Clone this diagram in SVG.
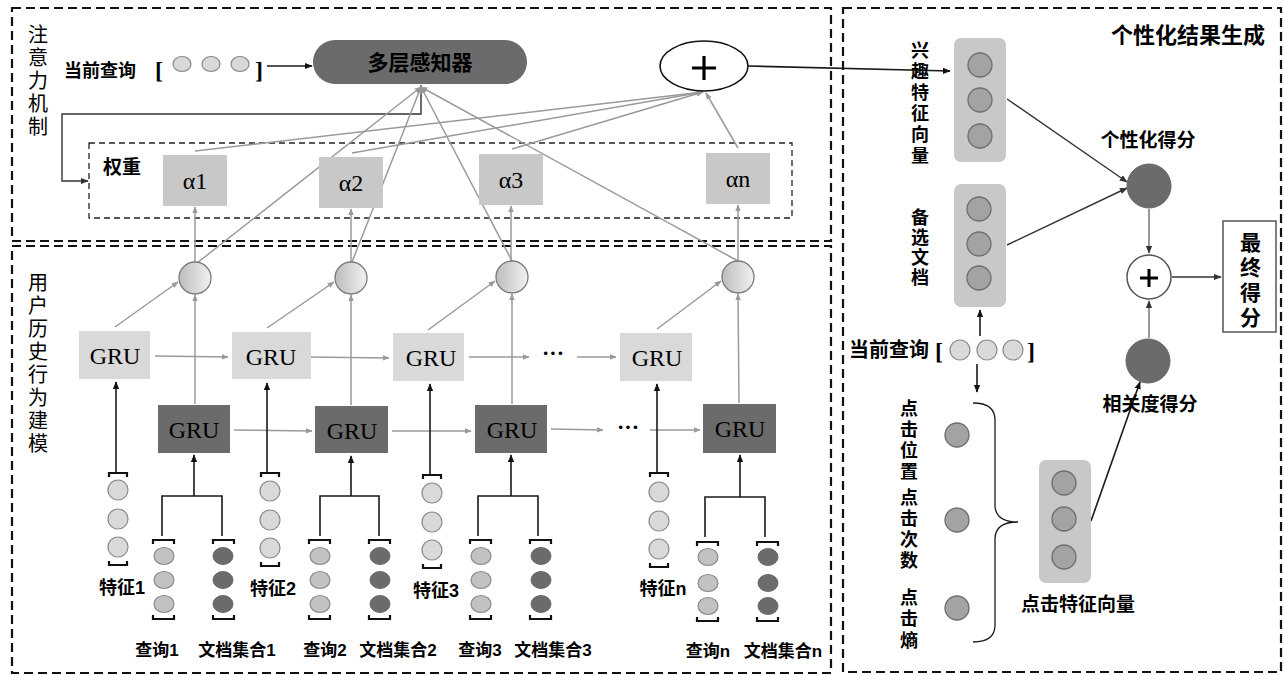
<svg xmlns="http://www.w3.org/2000/svg" width="1284" height="675" viewBox="0 0 1284 675">
<defs>
<style>
.panel{fill:none;stroke:#111;stroke-width:2.2;stroke-dasharray:9 5}
.wbox{fill:none;stroke:#222;stroke-width:1.3;stroke-dasharray:6 4}
.cjkb{font-family:"Liberation Sans","Noto Sans CJK SC",sans-serif;font-weight:bold;fill:#000}
.cjk{font-family:"Noto Sans CJK SC",sans-serif;font-weight:normal;fill:#000}
.vt{writing-mode:vertical-rl;text-anchor:start}
.ser{font-family:"Liberation Serif",serif;fill:#000}
.gl{stroke:#9a9a9a;stroke-width:1.5;fill:none}
.bl{stroke:#1a1a1a;stroke-width:1.6;fill:none}
.dl{stroke:#333;stroke-width:1.4;fill:none}
.alpha{fill:#c8c8c8}
.gru1{fill:#d9d9d9}
.gru2{fill:#6b6b6b}
.sum{fill:url(#sg);stroke:#7a7a7a;stroke-width:1.3}
.fc{fill:#d9d9d9;stroke:#8a8a8a;stroke-width:1.2}
.qc{fill:#c2c2c2;stroke:#8a8a8a;stroke-width:1.2}
.dc{fill:#6b6b6b;stroke:#6b6b6b;stroke-width:1}
.vc{fill:#a3a3a3;stroke:#6e6e6e;stroke-width:1.3}
.vbox{fill:#c8c8c8}
.brk{fill:none;stroke:#111;stroke-width:2.2}
</style>
<linearGradient id="sg" x1="0" y1="0" x2="1" y2="0">
<stop offset="0" stop-color="#bcbcbc"/>
<stop offset="1" stop-color="#f2f2f2"/>
</linearGradient>
<marker id="ag" viewBox="0 0 10 10" refX="9" refY="5" markerWidth="7" markerHeight="7" orient="auto" markerUnits="userSpaceOnUse">
<path d="M0,1 L10,5 L0,9 z" fill="#9a9a9a"/>
</marker>
<marker id="ab" viewBox="0 0 10 10" refX="9" refY="5" markerWidth="8" markerHeight="8" orient="auto" markerUnits="userSpaceOnUse">
<path d="M0,1 L10,5 L0,9 z" fill="#111"/>
</marker>
<marker id="ad" viewBox="0 0 10 10" refX="9" refY="5" markerWidth="8" markerHeight="8" orient="auto" markerUnits="userSpaceOnUse">
<path d="M0,1 L10,5 L0,9 z" fill="#333"/>
</marker>
</defs>
<rect width="1284" height="675" fill="#fff"/>

<g id="panels">
<rect class="panel" x="12" y="8" width="819" height="233"/>
<rect class="panel" x="12" y="246" width="819" height="427"/>
<rect class="panel" x="843" y="8" width="438" height="664"/>
<rect class="wbox" x="89" y="143" width="703" height="75"/>
</g>

<g id="titles">
<text class="cjk vt" font-size="20" letter-spacing="3" x="38" y="24">注意力机制</text>
<text class="cjk vt" font-size="20" letter-spacing="3" x="38" y="272">用户历史行为建模</text>
<text class="cjkb" font-size="22" x="1265" y="43" text-anchor="end">个性化结果生成</text>
<text class="cjkb" font-size="19" x="103" y="174">权重</text>
</g>

<g id="connectors">
<line class="bl" x1="267" y1="66" x2="312" y2="66" marker-end="url(#ab)"/>
<polyline class="dl" points="421,85 421,114 62,114 62,181 88,181" marker-end="url(#ad)"/>
<line class="gl" x1="197" y1="263" x2="421" y2="87" marker-end="url(#ag)"/>
<line class="gl" x1="352" y1="262" x2="421" y2="87" marker-end="url(#ag)"/>
<line class="gl" x1="512" y1="261" x2="421" y2="87" marker-end="url(#ag)"/>
<line class="gl" x1="738" y1="261" x2="421" y2="87" marker-end="url(#ag)"/>
<line class="gl" x1="195" y1="151" x2="703" y2="92" marker-end="url(#ag)"/>
<line class="gl" x1="352" y1="153" x2="703" y2="92" marker-end="url(#ag)"/>
<line class="gl" x1="512" y1="149" x2="703" y2="92" marker-end="url(#ag)"/>
<line class="gl" x1="738" y1="148" x2="706" y2="93" marker-end="url(#ag)"/>
<line class="gl" x1="195" y1="262" x2="195" y2="207" marker-end="url(#ag)"/>
<line class="gl" x1="351" y1="262" x2="351" y2="209" marker-end="url(#ag)"/>
<line class="gl" x1="511" y1="261" x2="511" y2="206" marker-end="url(#ag)"/>
<line class="gl" x1="738" y1="261" x2="738" y2="205" marker-end="url(#ag)"/>
<line class="gl" x1="195" y1="404" x2="195" y2="295" marker-end="url(#ag)"/>
<line class="gl" x1="351" y1="405" x2="351" y2="295" marker-end="url(#ag)"/>
<line class="gl" x1="512" y1="404" x2="512" y2="294" marker-end="url(#ag)"/>
<line class="gl" x1="739" y1="403" x2="738" y2="294" marker-end="url(#ag)"/>
<line class="gl" x1="115" y1="327" x2="178" y2="282" marker-end="url(#ag)"/>
<line class="gl" x1="267" y1="328" x2="334" y2="282" marker-end="url(#ag)"/>
<line class="gl" x1="428" y1="330" x2="495" y2="281" marker-end="url(#ag)"/>
<line class="gl" x1="657" y1="329" x2="721" y2="281" marker-end="url(#ag)"/>
<line class="gl" x1="155" y1="356" x2="228" y2="357" marker-end="url(#ag)"/>
<line class="gl" x1="307" y1="357" x2="389" y2="358" marker-end="url(#ag)"/>
<line class="gl" x1="469" y1="357" x2="529" y2="357" marker-end="url(#ag)"/>
<line class="gl" x1="577" y1="357" x2="616" y2="357" marker-end="url(#ag)"/>
<line class="gl" x1="234" y1="430" x2="312" y2="431" marker-end="url(#ag)"/>
<line class="gl" x1="392" y1="431" x2="471" y2="431" marker-end="url(#ag)"/>
<line class="gl" x1="551" y1="429" x2="603" y2="430" marker-end="url(#ag)"/>
<line class="gl" x1="650" y1="430" x2="700" y2="430" marker-end="url(#ag)"/>
<line class="bl" x1="116" y1="472" x2="116" y2="382" marker-end="url(#ab)"/>
<line class="bl" x1="267" y1="473" x2="267" y2="383" marker-end="url(#ab)"/>
<line class="bl" x1="430" y1="474" x2="430" y2="384" marker-end="url(#ab)"/>
<line class="bl" x1="657" y1="472" x2="657" y2="384" marker-end="url(#ab)"/>
<path class="bl" d="M162,536 V496 H222 V536 M194,496 V455" marker-end="url(#ab)"/>
<path class="bl" d="M320,536 V496 H379 V536 M351,496 V456" marker-end="url(#ab)"/>
<path class="bl" d="M478,536 V496 H538 V536 M511,496 V455" marker-end="url(#ab)"/>
<path class="bl" d="M705,537 V497 H765 V537 M740,497 V455" marker-end="url(#ab)"/>
<line class="bl" x1="748" y1="66" x2="950" y2="71" marker-end="url(#ab)"/>
<line class="dl" x1="1007" y1="99" x2="1127" y2="182" marker-end="url(#ad)"/>
<line class="dl" x1="1007" y1="245" x2="1127" y2="188" marker-end="url(#ad)"/>
<line class="gl" style="stroke:#777" x1="1149" y1="209" x2="1149" y2="253" marker-end="url(#ad)"/>
<line class="gl" style="stroke:#777" x1="1149" y1="338" x2="1149" y2="301" marker-end="url(#ad)"/>
<line class="dl" x1="1172" y1="277" x2="1221" y2="277" marker-end="url(#ad)"/>
<line class="bl" x1="980" y1="336" x2="980" y2="310" marker-end="url(#ab)"/>
<line class="bl" x1="977" y1="364" x2="977" y2="392" marker-end="url(#ab)"/>
<line class="bl" x1="1091" y1="521" x2="1140" y2="382" marker-end="url(#ab)"/>
<path class="bl" style="stroke-width:1.3" d="M973,403 Q995,403 995,420 V505 Q995,522 1018,522 Q995,522 995,539 V625 Q995,642 973,642"/>
</g>

<g id="query-top">
<text class="cjkb" font-size="18" x="64" y="77">当前查询</text>
<text class="ser" font-weight="bold" font-size="24" x="155" y="78">[</text>
<ellipse class="fc" cx="182" cy="64" rx="9" ry="7.5"/>
<ellipse class="fc" cx="211" cy="64" rx="9" ry="7.5"/>
<ellipse class="fc" cx="240" cy="64" rx="9" ry="7.5"/>
<text class="ser" font-weight="bold" font-size="24" x="255" y="78">]</text>
</g>

<g id="mlp">
<rect x="313" y="40" width="214" height="44" rx="22" fill="#6b6b6b"/>
<text class="cjkb" font-size="21" x="420" y="70" text-anchor="middle" fill="#111">多层感知器</text>
</g>

<g id="plus-top">
<ellipse cx="704" cy="66" rx="44" ry="25" fill="#fff" stroke="#111" stroke-width="1.6"/>
<path d="M692,68 H716 M704,56 V80" stroke="#000" stroke-width="3.2"/>
</g>

<g id="alphas">
<rect class="alpha" x="163" y="155" width="64" height="51"/>
<text class="ser" font-size="24" x="195" y="189" text-anchor="middle">α1</text>
<rect class="alpha" x="319" y="157" width="64" height="51"/>
<text class="ser" font-size="24" x="351" y="191" text-anchor="middle">α2</text>
<rect class="alpha" x="479" y="154" width="64" height="51"/>
<text class="ser" font-size="24" x="511" y="188" text-anchor="middle">α3</text>
<rect class="alpha" x="706" y="153" width="64" height="51"/>
<text class="ser" font-size="24" x="738" y="187" text-anchor="middle">αn</text>
</g>

<g id="sums">
<circle class="sum" cx="195" cy="278" r="16"/>
<circle class="sum" cx="351" cy="278" r="16"/>
<circle class="sum" cx="512" cy="277" r="16"/>
<circle class="sum" cx="738" cy="277" r="16"/>
</g>

<g id="gru-upper">
<rect class="gru1" x="79" y="331" width="71" height="48"/>
<text class="ser" font-size="24" x="115" y="364" text-anchor="middle">GRU</text>
<rect class="gru1" x="232" y="332" width="79" height="47"/>
<text class="ser" font-size="24" x="271" y="365" text-anchor="middle">GRU</text>
<rect class="gru1" x="393" y="333" width="71" height="48"/>
<text class="ser" font-size="24" x="431" y="366" text-anchor="middle">GRU</text>
<rect class="gru1" x="620" y="333" width="72" height="48"/>
<text class="ser" font-size="24" x="657" y="366" text-anchor="middle">GRU</text>
<text class="ser" font-weight="bold" font-size="22" x="553" y="360" text-anchor="middle">···</text>
</g>

<g id="gru-lower">
<rect class="gru2" x="158" y="405" width="72" height="48"/>
<text class="ser" font-size="24" x="194" y="438" text-anchor="middle">GRU</text>
<rect class="gru2" x="315" y="406" width="73" height="47"/>
<text class="ser" font-size="24" x="352" y="439" text-anchor="middle">GRU</text>
<rect class="gru2" x="475" y="405" width="72" height="48"/>
<text class="ser" font-size="24" x="512" y="438" text-anchor="middle">GRU</text>
<rect class="gru2" x="703" y="404" width="73" height="49"/>
<text class="ser" font-size="24" x="740" y="437" text-anchor="middle">GRU</text>
<text class="ser" font-weight="bold" font-size="22" x="628" y="434" text-anchor="middle">···</text>
</g>

<g id="features">
<path class="brk" d="M109,477 V473 H127 V477 M109,561 V565 H127 V561"/>
<circle class="fc" cx="118" cy="490" r="10"/><circle class="fc" cx="118" cy="519" r="10"/><circle class="fc" cx="118" cy="547" r="10"/>
<path class="brk" d="M261,477 V473 H279 V477 M261,562 V566 H279 V562"/>
<circle class="fc" cx="270" cy="491" r="10"/><circle class="fc" cx="270" cy="520" r="10"/><circle class="fc" cx="270" cy="548" r="10"/>
<path class="brk" d="M423,479 V475 H441 V479 M423,564 V568 H441 V564"/>
<circle class="fc" cx="432" cy="493" r="10"/><circle class="fc" cx="432" cy="522" r="10"/><circle class="fc" cx="432" cy="550" r="10"/>
<path class="brk" d="M650,477 V473 H668 V477 M650,563 V567 H668 V563"/>
<circle class="fc" cx="659" cy="492" r="10"/><circle class="fc" cx="659" cy="521" r="10"/><circle class="fc" cx="659" cy="549" r="10"/>
<text class="cjkb" font-size="18" x="122" y="594" text-anchor="middle">特征1</text>
<text class="cjkb" font-size="18" x="273" y="595" text-anchor="middle">特征2</text>
<text class="cjkb" font-size="18" x="436" y="597" text-anchor="middle">特征3</text>
<text class="cjkb" font-size="18" x="663" y="595" text-anchor="middle">特征n</text>
</g>

<g id="queries-docs">
<path class="brk" d="M153,544 V540 H174 V544 M153,615 V619 H174 V615"/>
<ellipse class="qc" cx="164" cy="556" rx="10" ry="8.5"/><ellipse class="qc" cx="164" cy="580" rx="10" ry="8.5"/><ellipse class="qc" cx="164" cy="604" rx="10" ry="8.5"/>
<path class="brk" d="M213,544 V540 H234 V544 M213,615 V619 H234 V615"/>
<ellipse class="dc" cx="223" cy="556" rx="10" ry="8.5"/><ellipse class="dc" cx="223" cy="580" rx="10" ry="8.5"/><ellipse class="dc" cx="223" cy="604" rx="10" ry="8.5"/>
<path class="brk" d="M309,544 V540 H330 V544 M309,615 V619 H330 V615"/>
<ellipse class="qc" cx="320" cy="556" rx="10" ry="8.5"/><ellipse class="qc" cx="320" cy="580" rx="10" ry="8.5"/><ellipse class="qc" cx="320" cy="604" rx="10" ry="8.5"/>
<path class="brk" d="M369,544 V540 H390 V544 M369,615 V619 H390 V615"/>
<ellipse class="dc" cx="380" cy="556" rx="10" ry="8.5"/><ellipse class="dc" cx="380" cy="580" rx="10" ry="8.5"/><ellipse class="dc" cx="380" cy="604" rx="10" ry="8.5"/>
<path class="brk" d="M470,544 V540 H491 V544 M470,615 V619 H491 V615"/>
<ellipse class="qc" cx="481" cy="556" rx="10" ry="8.5"/><ellipse class="qc" cx="481" cy="580" rx="10" ry="8.5"/><ellipse class="qc" cx="481" cy="604" rx="10" ry="8.5"/>
<path class="brk" d="M530,544 V540 H551 V544 M530,615 V619 H551 V615"/>
<ellipse class="dc" cx="541" cy="556" rx="10" ry="8.5"/><ellipse class="dc" cx="541" cy="580" rx="10" ry="8.5"/><ellipse class="dc" cx="541" cy="604" rx="10" ry="8.5"/>
<path class="brk" d="M697,546 V542 H718 V546 M697,617 V621 H718 V617"/>
<ellipse class="qc" cx="708" cy="557" rx="10" ry="8.5"/><ellipse class="qc" cx="708" cy="583" rx="10" ry="8.5"/><ellipse class="qc" cx="708" cy="606" rx="10" ry="8.5"/>
<path class="brk" d="M757,546 V542 H778 V546 M757,617 V621 H778 V617"/>
<ellipse class="dc" cx="768" cy="557" rx="10" ry="8.5"/><ellipse class="dc" cx="768" cy="583" rx="10" ry="8.5"/><ellipse class="dc" cx="768" cy="606" rx="10" ry="8.5"/>
<text class="cjkb" font-size="17" x="157" y="656" text-anchor="middle">查询1</text>
<text class="cjkb" font-size="17" x="237" y="656" text-anchor="middle">文档集合1</text>
<text class="cjkb" font-size="17" x="325" y="656" text-anchor="middle">查询2</text>
<text class="cjkb" font-size="17" x="398" y="656" text-anchor="middle">文档集合2</text>
<text class="cjkb" font-size="17" x="480" y="656" text-anchor="middle">查询3</text>
<text class="cjkb" font-size="17" x="553" y="656" text-anchor="middle">文档集合3</text>
<text class="cjkb" font-size="17" x="708" y="657" text-anchor="middle">查询n</text>
<text class="cjkb" font-size="17" x="783" y="657" text-anchor="middle">文档集合n</text>
</g>

<g id="interest-vector">
<rect class="vbox" x="954" y="38" width="52" height="124" rx="7"/>
<circle class="vc" cx="980" cy="65" r="12"/><circle class="vc" cx="980" cy="100" r="12"/><circle class="vc" cx="980" cy="136" r="12"/>
<text class="cjkb vt" font-size="18" letter-spacing="3" x="918" y="41">兴趣特征向量</text>
</g>

<g id="candidate-docs">
<rect class="vbox" x="954" y="184" width="52" height="123" rx="7"/>
<circle class="vc" cx="979" cy="209" r="12"/><circle class="vc" cx="979" cy="244" r="12"/><circle class="vc" cx="979" cy="278" r="12"/>
<text class="cjkb vt" font-size="18" letter-spacing="2" x="918" y="208">备选文档</text>
</g>

<g id="personal-score">
<circle cx="1149" cy="186" r="22" fill="#6b6b6b" stroke="#666" stroke-width="1"/>
<text class="cjkb" font-size="19" x="1148" y="147" text-anchor="middle">个性化得分</text>
</g>

<g id="plus-right">
<circle cx="1149" cy="277" r="22" fill="#fff" stroke="#555" stroke-width="1.5"/>
<path d="M1140,278 H1158 M1149,269 V287" stroke="#000" stroke-width="3"/>
</g>

<g id="final-score">
<rect x="1223" y="221" width="53" height="111" fill="#fff" stroke="#555" stroke-width="1.5"/>
<text class="cjkb vt" font-size="21" letter-spacing="4" x="1249" y="232">最终得分</text>
</g>

<g id="relevance-score">
<circle cx="1148" cy="361" r="22" fill="#6b6b6b" stroke="#666" stroke-width="1"/>
<text class="cjkb" font-size="19" x="1150" y="411" text-anchor="middle">相关度得分</text>
</g>

<g id="query-right">
<text class="cjkb" font-size="20" x="849" y="357">当前查询</text>
<text class="ser" font-weight="bold" font-size="24" x="935" y="359">[</text>
<circle class="fc" cx="960" cy="350" r="10"/><circle class="fc" cx="987" cy="350" r="10"/><circle class="fc" cx="1013" cy="350" r="10"/>
<text class="ser" font-weight="bold" font-size="24" x="1027" y="359">]</text>
</g>

<g id="click-features">
<circle class="vc" cx="957" cy="435" r="12"/>
<circle class="vc" cx="957" cy="520" r="12"/>
<circle class="vc" cx="957" cy="608" r="12"/>
<text class="cjkb vt" font-size="18" letter-spacing="3" x="907" y="399">点击位置</text>
<text class="cjkb vt" font-size="18" letter-spacing="3" x="907" y="488">点击次数</text>
<text class="cjkb vt" font-size="18" letter-spacing="3.5" x="907" y="588">点击熵</text>
</g>

<g id="click-vector">
<rect class="vbox" x="1039" y="460" width="52" height="123" rx="7"/>
<circle class="vc" cx="1064" cy="483" r="12"/><circle class="vc" cx="1064" cy="519" r="12"/><circle class="vc" cx="1064" cy="557" r="12"/>
<text class="cjkb" font-size="19" x="1078" y="611" text-anchor="middle">点击特征向量</text>
</g>
</svg>
